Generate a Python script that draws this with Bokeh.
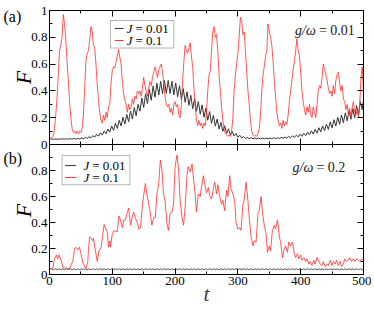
import numpy as np
from bokeh.plotting import figure
from bokeh.models import Range1d, LinearAxis, FixedTicker, Label, BoxAnnotation
from bokeh.layouts import column, row
from bokeh.embed import file_html
from bokeh.resources import INLINE

# ---------------- data ----------------
x_ticks = [0, 100, 200, 300, 400, 500]
x_minor = [50, 150, 250, 350, 450]
y_ticks = [0, 0.2, 0.4, 0.6, 0.8, 1.0]
y_minor = [0.1, 0.3, 0.5, 0.7, 0.9]

# panel (a), J = 0.1 (red), sampled every 2 time units
t_red_a = list(range(0, 501, 2))
F_red_a = [
    .045, .048, .05, .06, .12, .22, .35, .52, .70, .74, .80, .97, .90, .78, .62, .48, .32, .20, .12, .09,
    .10, .08, .10, .08, .10, .09, .12, .22, .42, .62, .68, .70, .78, .88, .84, .74, .72, .60, .45, .33,
    .24, .18, .16, .22, .18, .24, .20, .28, .30, .46, .55, .58, .57, .62, .66, .71, .65, .60, .47, .38,
    .33, .30, .24, .30, .26, .28, .34, .30, .36, .34, .40, .38, .40, .36, .42, .50, .44, .40, .36, .42,
    .47, .44, .50, .54, .58, .54, .50, .56, .58, .60, .54, .46, .36, .30, .28, .30, .24, .27, .22, .30,
    .32, .28, .30, .22, .20, .30, .48, .62, .74, .70, .68, .72, .76, .66, .58, .42, .28, .18, .14, .18,
    .14, .16, .12, .16, .14, .24, .40, .52, .55, .70, .84, .88, .80, .82, .70, .52, .40, .28, .18, .12,
    .08, .07, .06, .07, .06, .10, .20, .40, .52, .60, .68, .80, .95, .92, .82, .84, .70, .55, .40, .30,
    .18, .10, .07, .06, .07, .06, .08, .12, .22, .40, .52, .58, .66, .70, .90, .84, .80, .74, .62, .48,
    .36, .24, .18, .14, .16, .12, .18, .14, .17, .15, .22, .32, .40, .48, .56, .62, .70, .79, .70, .66,
    .54, .40, .32, .26, .22, .28, .24, .30, .22, .20, .28, .24, .20, .30, .40, .44, .42, .50, .60, .56,
    .52, .48, .42, .38, .40, .36, .44, .38, .48, .52, .54, .46, .40, .44, .34, .32, .26, .30, .22, .27,
    .20, .28, .32, .24, .22, .26, .20, .30, .50, .58, .40,
]

# J = 0.01 (black), sampled every 3 time units (plus the end point)
t_black = list(range(0, 499, 3)) + [500]
F_black_a = [
    .038, .042, .038, .042, .038, .042, .039, .043, .039, .043, .039, .044,
    .040, .045, .040, .046, .041, .050, .043, .053, .045, .058, .050, .066,
    .055, .076, .062, .088, .070, .100, .080, .115, .092, .138, .105, .158,
    .120, .180, .138, .203, .152, .225, .170, .250, .190, .275, .214, .300,
    .249, .347, .277, .378, .306, .410, .330, .436, .353, .457, .370, .471,
    .379, .477, .382, .478, .380, .472, .371, .459, .356, .439, .337, .417,
    .315, .393, .292, .367, .267, .343, .248, .320, .226, .296, .203, .272,
    .181, .246, .158, .218, .137, .190, .115, .164, .098, .140, .083, .117,
    .070, .098, .063, .082, .055, .069, .049, .059, .045, .053, .044, .051,
    .043, .049, .042, .048, .042, .048, .042, .048, .043, .049, .043, .050,
    .044, .051, .045, .053, .046, .056, .048, .060, .050, .065, .053, .070,
    .057, .077, .061, .084, .066, .092, .072, .102, .078, .112, .085, .125,
    .094, .138, .103, .152, .113, .168, .125, .185, .138, .202, .150, .220,
    .163, .236, .176, .252, .188, .268, .200, .290, .222, .320, .260,
    .330,
]
F_black_b = [
    .037, .044, .037, .044, .037, .044, .037, .044, .037, .044, .037, .044,
    .037, .044, .037, .044, .037, .044, .037, .044, .037, .044, .037, .044,
    .037, .044, .037, .044, .037, .044, .037, .044, .037, .044, .037, .044,
    .037, .044, .037, .044, .037, .044, .037, .044, .037, .044, .037, .044,
    .037, .044, .037, .044, .037, .044, .037, .044, .037, .044, .037, .044,
    .037, .044, .037, .044, .037, .044, .037, .044, .037, .044, .037, .044,
    .037, .044, .037, .044, .037, .044, .037, .044, .037, .044, .037, .044,
    .037, .044, .037, .044, .037, .044, .037, .044, .037, .044, .037, .044,
    .037, .044, .037, .044, .037, .044, .037, .044, .037, .044, .037, .044,
    .037, .044, .037, .044, .037, .044, .037, .044, .037, .044, .037, .044,
    .037, .044, .037, .044, .037, .044, .037, .044, .037, .044, .037, .044,
    .037, .044, .037, .044, .037, .044, .037, .044, .037, .044, .037, .044,
    .037, .044, .037, .044, .037, .044, .037, .044, .037, .044, .037, .044,
    .037, .044, .037, .044, .037, .044, .037, .044, .037, .044, .037,
    .040,
]

# panel (b), J = 0.1 (red)
t_red_b = [
    0, 3, 5.5, 7, 9, 11, 13, 15, 17, 19, 21.5, 24, 27, 30, 32, 34, 37, 40, 42, 45,
    47.7, 50, 53, 55, 58, 61, 62, 64, 66, 68.6, 70, 72, 74, 76, 79, 82, 84.4, 87, 89.6, 92,
    94, 96, 97, 100, 103, 105, 108, 110.6, 113, 116, 118.5, 121, 124, 126, 129, 131.7, 134, 137, 140, 142,
    145, 147.5, 150, 152.7, 155, 158, 160, 163, 166, 168.5, 171, 174, 176.5, 179, 181.5, 184, 187, 189.5, 192, 195,
    197.5, 200, 203, 205.5, 208, 211, 213.5, 216, 219, 221, 224, 227, 229, 232, 234, 237, 240, 242, 245, 247,
    250, 253, 255, 258, 261, 263, 266, 268, 271, 274, 276, 279, 282, 284, 287, 289, 292, 295, 297, 300,
    303, 305, 308, 310, 313, 316, 318, 321, 324, 326, 329, 332, 334, 337, 339, 342, 345, 347, 350, 352,
    355, 358, 360, 363, 366, 368, 371, 373, 376, 379, 381, 384, 387, 389, 392, 395, 397, 400, 402, 405,
    408, 410, 413, 415, 418, 421, 423, 426, 429, 431, 434, 436, 439, 442, 444, 447, 450, 452, 455, 457,
    460, 463, 465, 468, 470, 473, 476, 478, 481, 484, 486, 489, 492, 494, 497, 500,
]
F_red_b = [
    .044, .045, .05, .10, .13, .15, .12, .15, .13, .10, .055, .05, .05, .045, .045, .07, .10, .20, .21, .19,
    .21, .16, .095, .07, .045, .095, .19, .29, .28, .26, .28, .21, .16, .10, .19, .20, .29, .385, .35, .33,
    .21, .26, .21, .31, .34, .33, .33, .45, .42, .36, .42, .42, .48, .51, .38, .44, .48, .43, .40, .35,
    .36, .51, .61, .70, .62, .54, .49, .38, .44, .44, .62, .70, .88, .81, .62, .57, .39, .34, .47, .48,
    .54, .83, .92, .81, .57, .44, .38, .52, .77, .83, .79, .85, .75, .62, .48, .62, .60, .67, .76, .70,
    .63, .67, .61, .58, .66, .71, .62, .69, .60, .54, .57, .49, .65, .60, .76, .66, .62, .56, .40, .35,
    .36, .34, .54, .57, .71, .57, .44, .29, .22, .26, .25, .47, .49, .60, .48, .38, .31, .17, .22, .18,
    .34, .38, .35, .42, .29, .25, .13, .18, .22, .17, .25, .22, .25, .18, .13, .16, .12, .15, .11, .13,
    .10, .12, .08, .10, .07, .11, .08, .13, .10, .08, .07, .10, .06, .08, .07, .11, .07, .10, .08, .11,
    .07, .10, .06, .08, .12, .10, .11, .13, .10, .12, .10, .12, .11, .10, .12, .11,
]

y_overrides_a = {0: "0", 0.2: "0.2", 0.4: "0.4", 0.6: "0.6", 0.8: "0.8", 1: "1"}
y_overrides_b = {0: "0", 0.2: "0.2", 0.4: "0.4", 0.6: "0.6", 0.8: "0.8", 1: ""}
J_labels = ["0.01", "0.1"]

SERIF = "Liberation Serif"
RED = "#ff3030"
BLACK_LINE = "#333333"


def style_axis(ax, ticks, minor, show_labels):
    ax.ticker = FixedTicker(ticks=ticks, minor_ticks=minor)
    ax.axis_line_color = "black"
    ax.axis_line_width = 1
    ax.major_tick_in = 6
    ax.major_tick_out = 0
    ax.minor_tick_in = 3
    ax.minor_tick_out = 0
    ax.major_tick_line_color = "black"
    ax.minor_tick_line_color = "black"
    ax.major_label_text_font = SERIF
    if show_labels:
        ax.major_label_text_font_size = "13px"
        ax.major_label_text_color = "black"
        ax.major_label_standoff = 2
    else:
        ax.major_label_text_font_size = "0px"
        ax.major_label_text_color = None
        ax.major_label_standoff = 0


def make_panel(height, top, bottom, x_labels, y_over):
    p = figure(width=343, height=height, x_range=Range1d(0, 500), y_range=Range1d(0, 1),
               output_backend="svg", toolbar_location=None,
               min_border_left=18, min_border_right=8,
               min_border_top=top, min_border_bottom=bottom)
    p.xgrid.visible = False
    p.ygrid.visible = False
    p.outline_line_color = "black"
    p.background_fill_color = "white"
    p.border_fill_alpha = 0
    style_axis(p.below[0], x_ticks, x_minor, x_labels)
    style_axis(p.left[0], y_ticks, y_minor, True)
    p.left[0].major_label_overrides = y_over
    top_ax = LinearAxis()
    style_axis(top_ax, x_ticks, x_minor, False)
    p.add_layout(top_ax, "above")
    right_ax = LinearAxis()
    style_axis(right_ax, y_ticks, y_minor, False)
    p.add_layout(right_ax, "right")
    return p


def add_gw(p, gw_x, gw_y, gw_val):
    p.add_layout(Label(x=gw_x, y=gw_y, text="g/ω", text_align="right", text_baseline="middle",
                       text_font=SERIF, text_font_style="italic", text_font_size="14px",
                       text_color="#222222"))
    p.add_layout(Label(x=gw_x + 5, y=gw_y, text="= " + gw_val, text_align="left",
                       text_baseline="middle", text_font=SERIF, text_font_size="14px",
                       text_color="#222222"))


def add_legend(p, left, right, bottom, top, rows, sw0, sw1, jx, ex, labels):
    p.add_layout(BoxAnnotation(left=left, right=right, bottom=bottom, top=top,
                               fill_color="white", fill_alpha=1.0, line_color="black",
                               line_width=1, level="annotation"))
    for (yy, col, lab) in zip(rows, [BLACK_LINE, RED], labels):
        p.segment(x0=[sw0], y0=[yy], x1=[sw1], y1=[yy], line_color=col, line_width=1, level="overlay")
        p.add_layout(Label(x=jx, y=yy, text="J", text_align="left", text_baseline="middle",
                           text_font=SERIF, text_font_style="italic", text_font_size="13px",
                           text_color="black", level="overlay"))
        p.add_layout(Label(x=ex, y=yy, text="= " + lab, text_align="left", text_baseline="middle",
                           text_font=SERIF, text_font_size="13px", text_color="black",
                           level="overlay"))


# ---------------- panel (a) ----------------
pa = make_panel(152, 10, 8, False, y_overrides_a)
pa.line(t_black, F_black_a, line_color=BLACK_LINE, line_width=1)
pa.line(t_red_a, F_red_a, line_color=RED, line_width=0.9, line_alpha=0.9)
add_gw(pa, 424, 0.85, "0.01")
add_legend(pa, 97, 198, 0.72, 0.925, [0.866, 0.776], 104, 118, 123, 137, J_labels)

# ---------------- panel (b) ----------------
pb = make_panel(167, 0, 37, True, y_overrides_b)
pb.margin = (-8, 0, 0, 0)
pb.line(t_black, F_black_b, line_color="#555555", line_width=1)
pb.line(t_red_b, F_red_b, line_color=RED, line_width=0.9, line_alpha=0.9)
add_gw(pb, 420, 0.82, "0.2")
add_legend(pb, 20, 128, 0.69, 0.915, [0.838, 0.746], 25, 42, 54, 68, J_labels)
xb = pb.below[0]
xb.axis_label = "t"
xb.axis_label_text_font = SERIF
xb.axis_label_text_font_style = "italic"
xb.axis_label_text_font_size = "22px"
xb.axis_label_standoff = -7

# ---------------- left strip with panel tags and F labels ----------------
strip = figure(width=40, height=311, x_range=Range1d(0, 40), y_range=Range1d(311, 0),
               output_backend="svg", toolbar_location=None, min_border=0,
               x_axis_location=None, y_axis_location=None)
strip.xgrid.visible = False
strip.ygrid.visible = False
strip.outline_line_color = None
for tag, ty, fy in [("(a)", 16, 77), ("(b)", 158, 210)]:
    strip.add_layout(Label(x=3, y=ty, text=tag, text_align="left", text_baseline="middle",
                           text_font=SERIF, text_font_size="16px", text_color="black"))
    strip.add_layout(Label(x=23, y=fy, text="F", angle=np.pi / 2, text_align="center",
                           text_baseline="middle", text_font=SERIF, text_font_style="italic",
                           text_font_size="22px", text_color="black"))

panels = column(pa, pb, spacing=0)
panels.margin = (0, 0, 0, -12)
layout = row(strip, panels, spacing=0)
open("out.html", "w").write(file_html(layout, INLINE))
